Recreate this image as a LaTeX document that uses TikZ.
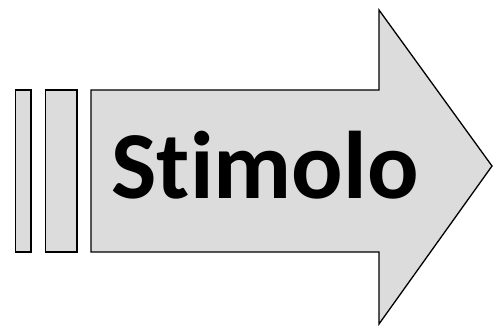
\documentclass[tikz,border=0pt]{standalone}
\usepackage{fontspec}
\setmainfont{Carlito}[Ligatures={NoCommon}]
\definecolor{arrowfill}{HTML}{DCDCDC}
\begin{document}
\begin{tikzpicture}[x=1pt,y=-1pt,
  shapestyle/.style={draw=black, fill=arrowfill, line width=1.3pt, line join=miter}]
\useasboundingbox (0,0) rectangle (493,329);
\draw[shapestyle] (15.5,90) rectangle (31,252);
\draw[shapestyle] (45.5,90) rectangle (77,252);
\draw[shapestyle] (91,90) -- (379,90) -- (379,10) -- (492,166) -- (379,324) -- (379,252) -- (91,252) -- cycle;
\node[anchor=base, font=\bfseries\fontsize{96}{96}\selectfont, inner sep=0pt] (label) at (265,198) {Stimolo};
\end{tikzpicture}
\end{document}
